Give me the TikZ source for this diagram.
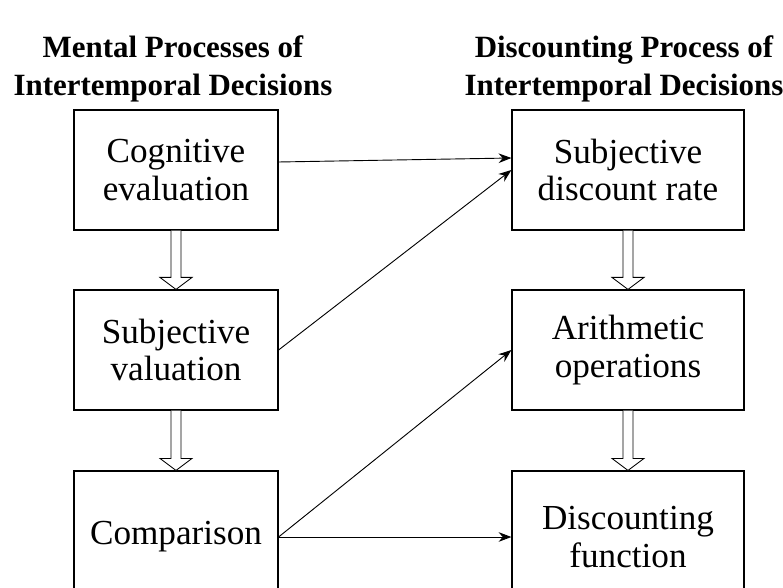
\documentclass[tikz,border=0pt]{standalone}
\usepackage{fontspec}
\setmainfont{Liberation Serif}
\usetikzlibrary{arrows.meta,calc}

% hollow block arrow between two stacked boxes
\newcommand{\hollowarrow}[2]{%
  \draw[line width=0.6pt,fill=white]
    ($(#1.south)+(-5,0)$) -- ($(#2.north)+(-5,12)$) -- ($(#2.north)+(-16,12)$)
    -- (#2.north) -- ($(#2.north)+(16,12)$) -- ($(#2.north)+(5,12)$)
    -- ($(#1.south)+(5,0)$);
}

\begin{document}
\begin{tikzpicture}[x=0.025cm,y=0.025cm]
\tikzstyle{box}=[draw,line width=0.8pt,align=center,minimum height=3cm,
  font=\fontsize{25}{26.5}\selectfont]
\tikzstyle{lbox}=[box,minimum width=5.1cm]
\tikzstyle{rbox}=[box,minimum width=5.8cm]
\tikzstyle{title}=[align=center,font=\fontsize{22}{26.5}\selectfont\bfseries]
\tikzstyle{link}=[line width=0.65pt,-{Stealth[length=3.2mm,width=2.4mm]}]
\useasboundingbox (0,0) rectangle (783,587);

\node[title](ltitle) at (173,518) {Mental Processes of\\Intertemporal Decisions};
\node[title](rtitle) at (624,518) {Discounting Process of\\Intertemporal Decisions};

\node[lbox](cog) at (176,417) {Cognitive\\evaluation};
\node[lbox](val) at (176,237) {Subjective\\valuation};
\node[lbox,minimum height=3.3cm](comp) at (176,50) {Comparison};
\node[rbox](rate) at (628,417) {Subjective\\discount rate};
\node[rbox](arith) at (628,237) {Arithmetic\\operations};
\node[rbox,minimum height=3.3cm](func) at (628,50) {Discounting\\function};

\hollowarrow{cog}{val}
\hollowarrow{val}{comp}
\hollowarrow{rate}{arith}
\hollowarrow{arith}{func}

\draw[link] ([yshift=0.2cm]cog.east) -- ([yshift=0.3cm]rate.west);
\draw[link] (val.east) -- (rate.west);
\draw[link] (comp.east) -- (arith.west);
\draw[link] (comp.east) -- (func.west);
\end{tikzpicture}
\end{document}
